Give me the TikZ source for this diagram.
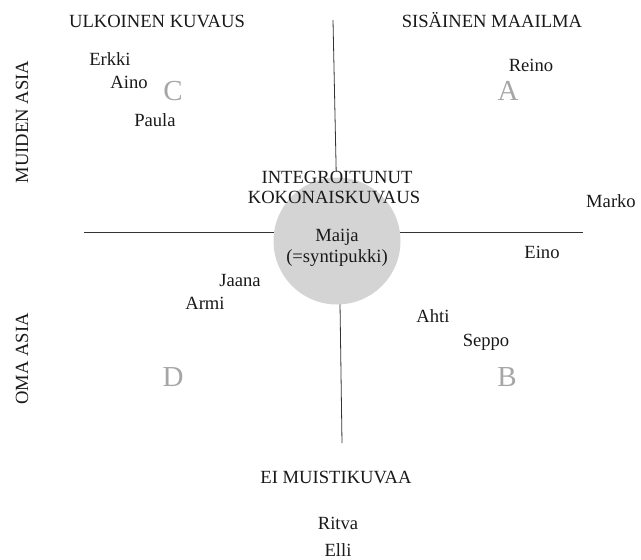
\documentclass[tikz,border=0pt]{standalone}
\usepackage{fontspec}
\setmainfont{Liberation Serif}
\begin{document}
\begin{tikzpicture}[x=1pt,y=-1pt,
  lbl/.style={inner sep=0pt,anchor=base,font=\fontsize{18.6}{21}\selectfont,text=black!90},
  quad/.style={inner sep=0pt,anchor=base,font=\fontsize{29}{32}\selectfont,text=black!35},
  axis/.style={line width=0.8pt,draw=black!80}]
\useasboundingbox (0,0) rectangle (641,560);
% axes
\coordinate (vtop) at (333,20);
\coordinate (vmid1) at (336.2,172);
\coordinate (vmid2) at (340,303);
\coordinate (vbot) at (342,443);
\coordinate (hleft) at (84,232);
\coordinate (hright) at (583,232);
\draw[axis] (vtop) -- (vmid1);
\draw[axis] (vmid2) -- (vbot);
\draw[axis] (hleft) -- (hright);
% central circle
\node[circle,fill=black!17,minimum size=127pt,inner sep=0pt] (core) at (337,241) {};
% headings
\node[lbl] (ulk) at (157,27) {ULKOINEN KUVAUS};
\node[lbl] (sis) at (492,27) {SISÄINEN MAAILMA};
\node[lbl,rotate=90] (muid) at (28,122) {MUIDEN ASIA};
\node[lbl,rotate=90] (oma) at (28,359) {OMA ASIA};
\node[lbl] (integ) at (337,183) {INTEGROITUNUT};
\node[lbl] (kok) at (334,203) {KOKONAISKUVAUS};
\node[lbl] (eimu) at (336,483) {EI MUISTIKUVAA};
% centre names
\node[lbl] (maija) at (337,241) {Maija};
\node[lbl] (synti) at (337,262) {(=syntipukki)};
% quadrant letters
\node[quad] (qc) at (173,100) {C};
\node[quad] (qa) at (508,100) {A};
\node[quad] (qd) at (173,386) {D};
\node[quad] (qb) at (507,386) {B};
% names
\node[lbl] (erkki) at (110,65) {Erkki};
\node[lbl] (aino) at (129,88) {Aino};
\node[lbl] (paula) at (155,126) {Paula};
\node[lbl] (reino) at (531,71) {Reino};
\node[lbl] (marko) at (611,207) {Marko};
\node[lbl] (eino) at (542,258) {Eino};
\node[lbl] (jaana) at (240,286) {Jaana};
\node[lbl] (armi) at (205,309) {Armi};
\node[lbl] (ahti) at (433,322) {Ahti};
\node[lbl] (seppo) at (486,346) {Seppo};
\node[lbl] (ritva) at (338,529) {Ritva};
\node[lbl] (elli) at (338,556) {Elli};
\end{tikzpicture}
\end{document}
